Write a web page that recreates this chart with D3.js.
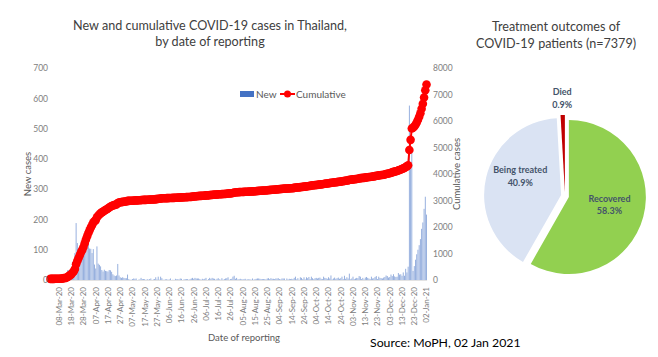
<!DOCTYPE html>
<html><head><meta charset="utf-8">
<script src="https://cdn.jsdelivr.net/npm/d3@7"></script>
<style>
body{margin:0;background:#fff;}
text{font-family:Lato,"Open Sans",sans-serif;}
</style></head>
<body><svg id="c" width="658" height="357"></svg>
<script>
// ---- Data: daily new COVID-19 cases in Thailand by reporting date (01-Mar-20 .. 02-Jan-21)
const startDate = "2020-03-01";
const endDate = "2021-01-02";
const cumulativeBefore = 42; // cases reported before 01-Mar-20
const newMar = [0,1,0,0,4,1,2,0,0,3,6,11,5,7,32,33,30,35,60,50,89,188,122,106,107,111,91,109,143,136,127];
const newApr = [120,104,103,89,102,51,38,111,54,50,45,33,28,34,30,29,28,33,32,27,19,15,13,15,53,15,9,7,9,7];
const newMay = [6,6,18,3,1,1,3,5,4,5,0,1,2,7,3,3,3,0,3,1,3,5,0,2,3,9,2,11,1,11,6];
const newJun = [1,1,2,3,1,2,5,0,1,0,4,2,3,2,5,4,0,2,3,3,3,1,3,5,7,4,7,5,5,5];
const newJul = [3,1,4,2,4,7,0,3,7,4,7,5,4,1,4,6,2,1,6,1,3,5,6,9,1,3,4,11,14,4,7];
const newAug = [2,3,4,2,2,3,4,1,2,3,2,1,5,1,3,4,5,5,4,3,3,3,3,2,5,6,3,6,4,4,3];
const newSep = [5,5,6,3,2,5,5,5,0,5,2,4,3,4,3,7,11,2,6,1,9,7,3,9,2,9,6,10,3,11];
const newOct = [6,3,6,7,5,7,8,4,3,11,7,6,4,9,5,15,2,5,8,4,6,8,4,6,11,3,14,4,9,5,21];
const newNov = [2,5,11,3,5,7,6,13,11,3,7,2,8,10,7,5,3,11,5,6,10,13,3,11,7,6,5,8,10,15];
const newDec = [13,8,10,18,13,19,12,10,11,23,18,19,14,25,14,37,25,44,576,382,427,30,46,67,85,100,115,135,169,190,235];
const newJan = [275,216];

const xTickLabels = ["08-Mar-20","18-Mar-20","28-Mar-20","07-Apr-20","17-Apr-20","27-Apr-20","07-May-20","17-May-20","27-May-20","06-Jun-20","16-Jun-20","26-Jun-20","06-Jul-20","16-Jul-20","26-Jul-20","05-Aug-20","15-Aug-20","25-Aug-20","04-Sep-20","14-Sep-20","24-Sep-20","04-Oct-20","14-Oct-20","24-Oct-20","03-Nov-20","13-Nov-20","23-Nov-20","03-Dec-20","13-Dec-20","23-Dec-20","02-Jan-21"];
const leftTicks = [0,100,200,300,400,500,600,700];
const rightTicks = [0,1000,2000,3000,4000,5000,6000,7000,8000];

const outcomeLabels = ["Recovered","Being treated","Died"];
const outcomePct = [58.3,40.9,0.9];
const outcomeColors = ["#92D050","#DAE3F3","#C00000"];
const totalPatients = 7379;

// ---- Build
const parse = d3.timeParse("%Y-%m-%d");
const fmt = d3.timeFormat("%d-%b-%y");
const days = d3.timeDay.range(parse(startDate), d3.timeDay.offset(parse(endDate),1));
const newCases = [].concat(newMar,newApr,newMay,newJun,newJul,newAug,newSep,newOct,newNov,newDec,newJan);
const cum = Array.from(d3.cumsum(newCases), v => v + cumulativeBefore);
const data = days.map((d,i)=>({key:fmt(d), n:newCases[i], c:cum[i]}));

const svg = d3.select("#c");
const grey = "#595959";

const x = d3.scaleBand().domain(data.map(d=>d.key)).range([49.8,427.1]).paddingInner(0.25).paddingOuter(0.1);
const yL = d3.scaleLinear().domain([0,700]).range([280,68]);
const yR = d3.scaleLinear().domain([0,8000]).range([280,68]);
const cx = k => x(k) + x.bandwidth()/2;

// title
const t1 = svg.append("text").attr("text-anchor","middle")
  .attr("font-size",12.6).attr("fill","#404040");
t1.append("tspan").attr("x",210).attr("y",30).text("New and cumulative COVID-19 cases in Thailand,");
t1.append("tspan").attr("x",210).attr("y",46).text("by date of reporting");

// baseline
svg.append("line").attr("x1",49.8).attr("x2",427.1).attr("y1",280.5).attr("y2",280.5)
  .attr("stroke","#e3e3e3").attr("stroke-width",1);

// bars
svg.append("g").selectAll("rect").data(data).join("rect")
  .attr("x",d=>x(d.key)).attr("width",x.bandwidth())
  .attr("y",d=>yL(d.n)).attr("height",d=>280-yL(d.n))
  .attr("fill","#8faadc");

// cumulative line
svg.append("path").datum(data)
  .attr("d",d3.line().x(d=>cx(d.key)).y(d=>yR(d.c)))
  .attr("fill","none").attr("stroke","#FF0000").attr("stroke-width",2);
svg.append("g").selectAll("circle").data(data).join("circle")
  .attr("cx",d=>cx(d.key)).attr("cy",d=>yR(d.c)).attr("r",4.3).attr("fill","#FF0000");

// left axis
const gL = svg.append("g").attr("transform","translate(50,0)")
  .call(d3.axisLeft(yL).tickValues(leftTicks).tickSize(0).tickPadding(2));
gL.select(".domain").remove();
gL.selectAll("text").attr("font-size",8.5).attr("fill","#808080").attr("font-family","Lato");

// right axis
const gR = svg.append("g").attr("transform","translate(431,0)")
  .call(d3.axisRight(yR).tickValues(rightTicks).tickFormat(d3.format("d")).tickSize(0).tickPadding(2));
gR.select(".domain").remove();
gR.selectAll("text").attr("font-size",8.5).attr("fill","#808080").attr("font-family","Lato");

// x axis
const gX = svg.append("g").attr("transform","translate(0,284)")
  .call(d3.axisBottom(x).tickValues(xTickLabels).tickSize(0).tickPadding(0));
gX.select(".domain").remove();
gX.selectAll("text").attr("font-size",8).attr("fill","#808080").attr("font-family","Lato")
  .attr("text-anchor","end").attr("transform","rotate(-90)").attr("x",-3).attr("y",0).attr("dy","0.35em");

// axis titles
svg.append("text").attr("transform","translate(31,174) rotate(-90)").attr("text-anchor","middle")
  .attr("font-size",9.5).attr("fill",grey).text("New cases");
svg.append("text").attr("transform","translate(460,174) rotate(-90)").attr("text-anchor","middle")
  .attr("font-size",9.5).attr("fill",grey).text("Cumulative cases");
svg.append("text").attr("x",244).attr("y",341).attr("text-anchor","middle")
  .attr("font-size",9.5).attr("fill",grey).text("Date of reporting");

// legend
const lg = svg.append("g");
lg.append("rect").attr("x",240).attr("y",91).attr("width",14).attr("height",6).attr("fill","#4472C4");
lg.append("text").attr("x",256).attr("y",97.5).attr("font-size",10).attr("fill",grey).text("New");
lg.append("line").attr("x1",280).attr("x2",295).attr("y1",94).attr("y2",94).attr("stroke","#FF0000").attr("stroke-width",2);
lg.append("circle").attr("cx",287.5).attr("cy",94).attr("r",3.5).attr("fill","#FF0000");
lg.append("text").attr("x",296).attr("y",97.5).attr("font-size",10).attr("fill",grey).text("Cumulative");

// source
svg.append("text").attr("x",370).attr("y",347).attr("font-size",12.3).attr("fill","#000").text("Source: MoPH, 02 Jan 2021");

// pie
const pcx = 565, pcy = 196, R = 77, explode = 4;
const t2 = svg.append("text").attr("text-anchor","middle").attr("font-size",12.6).attr("fill","#404040");
t2.append("tspan").attr("x",556).attr("y",31).text("Treatment outcomes of");
t2.append("tspan").attr("x",556).attr("y",48).text("COVID-19 patients (n=" + totalPatients + ")");

const pieData = outcomeLabels.map((l,i)=>({label:l, pct:outcomePct[i], color:outcomeColors[i]}));
const arcs = d3.pie().sort(null).value(d=>d.pct)(pieData);
const arc = d3.arc().innerRadius(0).outerRadius(R);
const gp = svg.append("g").attr("transform",`translate(${pcx},${pcy})`);
arcs.forEach(a=>{
  const m = (a.startAngle+a.endAngle)/2;
  gp.append("path").attr("d",arc(a)).attr("fill",a.data.color)
    .attr("transform",`translate(${explode*Math.sin(m)},${-explode*Math.cos(m)})`);
});
const labelR = [46, 46, 100];
const labelDy = [-6, -12, -1];
arcs.forEach((a,i)=>{
  const m = (a.startAngle+a.endAngle)/2;
  const lx = labelR[i]*Math.sin(m), ly = -labelR[i]*Math.cos(m) + labelDy[i];
  const tx = gp.append("text").attr("text-anchor","middle").attr("font-size",9).attr("font-weight","bold").attr("fill","#44546A");
  tx.append("tspan").attr("x",lx).attr("y",ly).text(a.data.label);
  tx.append("tspan").attr("x",lx).attr("y",ly+12.5).text(d3.format(".1f")(a.data.pct)+"%");
});
</script></body></html>
